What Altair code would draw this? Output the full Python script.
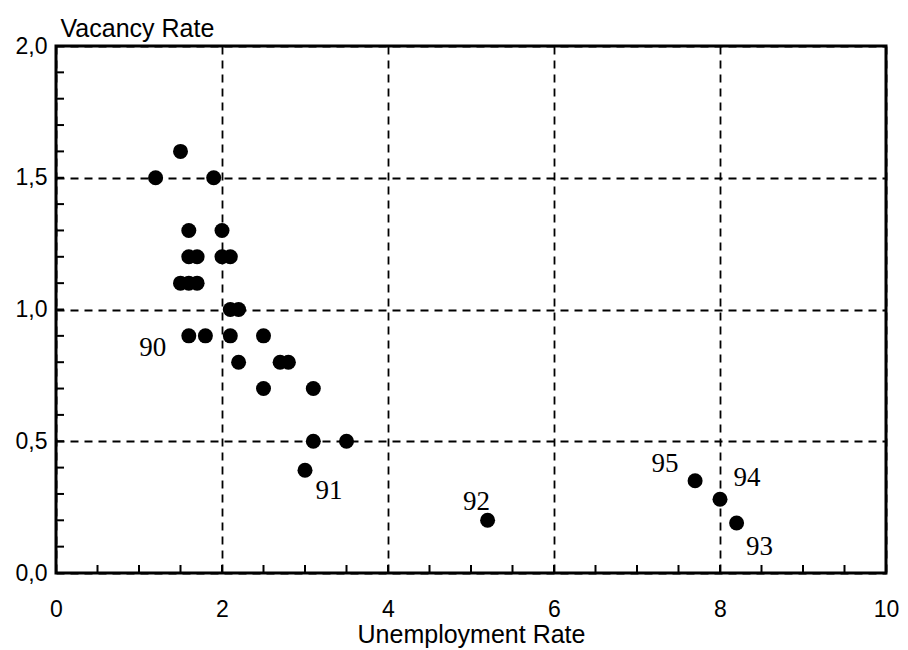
import altair as alt
import pandas as pd

# Data
unemployment = [1.5, 1.2, 1.9, 1.6, 2.0, 1.6, 1.7, 2.0, 2.1, 1.5, 1.6, 1.7,
                2.1, 2.2, 1.6, 1.8, 2.1, 2.5, 2.2, 2.7, 2.8, 2.5, 3.1, 3.1,
                3.5, 3.0, 5.2, 7.7, 8.0, 8.2]
vacancy = [1.6, 1.5, 1.5, 1.3, 1.3, 1.2, 1.2, 1.2, 1.2, 1.1, 1.1, 1.1,
           1.0, 1.0, 0.9, 0.9, 0.9, 0.9, 0.8, 0.8, 0.8, 0.7, 0.7, 0.5,
           0.5, 0.39, 0.2, 0.35, 0.28, 0.19]

label_text = ["90", "91", "92", "95", "94", "93"]
label_x = [1.6, 3.0, 5.2, 7.7, 8.0, 8.2]
label_y = [0.9, 0.39, 0.2, 0.35, 0.28, 0.19]
# pixel offsets of each label from its point (style)
label_dx = [-36, 24, -11, -30, 27, 23]
label_dy = [12, 21, -18, -17, -21, 24]

x_major = [0, 2, 4, 6, 8, 10]
y_major = [0.0, 0.5, 1.0, 1.5, 2.0]
x_minor = [0.5, 1.0, 1.5, 2.0, 2.5, 3.0, 3.5, 4.0, 4.5, 5.0, 5.5, 6.0, 6.5,
           7.0, 7.5, 8.0, 8.5, 9.0, 9.5]
y_minor = [0.1, 0.2, 0.3, 0.4, 0.5, 0.6, 0.7, 0.8, 0.9, 1.0, 1.1, 1.2, 1.3,
           1.4, 1.5, 1.6, 1.7, 1.8, 1.9]

W, H = 830, 527
SANS = "Liberation Sans"
SERIF = "Liberation Serif"

xscale = alt.Scale(domain=[0, 10], nice=False, zero=False)
yscale = alt.Scale(domain=[0, 2], nice=False, zero=False)

pts = pd.DataFrame({"u": unemployment, "v": vacancy})

x_axis = alt.Axis(values=x_major, format="d", labelFont=SANS, labelFontSize=23,
                  labelColor="black", labelPadding=25, labelFlush=False,
                  labelOverlap=False, domain=False, ticks=False, tickSize=0,
                  grid=True, gridColor="black", gridDash=[8, 6], gridWidth=1.8,
                  gridOpacity=1,
                  title="Unemployment Rate", titleFont=SANS, titleFontSize=25,
                  titleFontWeight="normal", titleColor="black",
                  titleX=W / 2, titleY=69, titleAlign="center",
                  titleBaseline="alphabetic")
y_axis = alt.Axis(values=y_major,
                  labelExpr="replace(format(datum.value, '.1f'), '.', ',')",
                  labelFont=SANS, labelFontSize=23, labelColor="black",
                  labelPadding=9, labelFlush=False, labelOverlap=False,
                  domain=False, ticks=False, tickSize=0,
                  grid=True, gridColor="black", gridDash=[8, 6], gridWidth=1.8,
                  gridOpacity=1,
                  title="Vacancy Rate", titleFont=SANS, titleFontSize=25,
                  titleFontWeight="normal", titleColor="black", titleAngle=0,
                  titleX=4, titleY=-10, titleAlign="left",
                  titleBaseline="alphabetic")

points = alt.Chart(pts).mark_circle(size=225, color="black", opacity=1).encode(
    x=alt.X("u:Q", scale=xscale, axis=x_axis),
    y=alt.Y("v:Q", scale=yscale, axis=y_axis),
)

xt = alt.Chart(pd.DataFrame({"t": x_minor})).mark_rule(
    color="black", strokeWidth=2).encode(
    x=alt.X("t:Q", scale=xscale),
    y=alt.value(H), y2=alt.value(H - 8),
)
yt = alt.Chart(pd.DataFrame({"t": y_minor})).mark_rule(
    color="black", strokeWidth=2).encode(
    y=alt.Y("t:Q", scale=yscale),
    x=alt.value(0), x2=alt.value(8),
)

layers = [xt, yt, points]
for txt, lx, ly, dx, dy in zip(label_text, label_x, label_y, label_dx, label_dy):
    df = pd.DataFrame({"u": [lx], "v": [ly], "s": [txt]})
    layers.append(
        alt.Chart(df).mark_text(font=SERIF, fontSize=27, color="black",
                                align="center", baseline="middle",
                                dx=dx, dy=dy).encode(
            x=alt.X("u:Q", scale=xscale),
            y=alt.Y("v:Q", scale=yscale),
            text="s:N",
        )
    )

chart = alt.layer(*layers).properties(
    width=W, height=H,
    autosize=alt.AutoSizeParams(type="none"),
    padding={"left": 48, "top": 38, "right": 14, "bottom": 76},
    background="white",
).configure_view(stroke="black", strokeWidth=3)

chart.save("out.html", embed_options={"renderer": "svg", "actions": False})
